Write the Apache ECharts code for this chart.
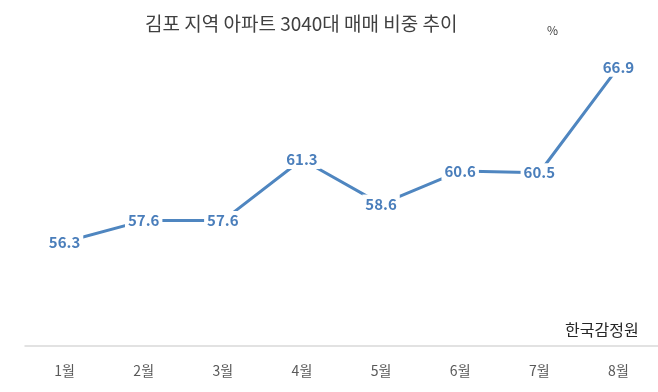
<!DOCTYPE html>
<html>
<head>
<meta charset="utf-8">
<script src="https://cdn.jsdelivr.net/npm/echarts@6/dist/echarts.min.js"></script>
<style>html,body{margin:0;padding:0;background:#fff}#c{width:658px;height:392px}</style>
</head>
<body>
<div id="c"></div>
<script>
const categories = ['1월','2월','3월','4월','5월','6월','7월','8월'];
const values = [56.3, 57.6, 57.6, 61.3, 58.6, 60.6, 60.5, 66.9];
const titleText = '김포 지역 아파트 3040대 매매 비중 추이';
const unitText = '%';
const sourceText = '한국감정원';

const chart = echarts.init(document.getElementById('c'));
const font = '"Noto Sans CJK KR", "Noto Sans", sans-serif';
chart.setOption({
  animation: false,
  backgroundColor: '#fff',
  textStyle: { fontFamily: font },
  title: [
    { text: titleText, left: 140, top: 9, textStyle: { fontSize: 19, fontWeight: 'normal', color: '#404040', fontFamily: font } },
    { text: unitText, left: 542, top: 19, textStyle: { fontSize: 12, fontWeight: 'normal', color: '#404040', fontFamily: font } },
    { text: sourceText, left: 560, top: 317, textStyle: { fontSize: 16, fontWeight: 'normal', color: '#262626', fontFamily: font } }
  ],
  grid: { left: 25, right: -7, top: 16, bottom: 46 },
  xAxis: {
    type: 'category',
    data: categories,
    boundaryGap: true,
    axisLine: { lineStyle: { color: '#d9d9d9', width: 1.5 } },
    axisTick: { show: false },
    axisLabel: { color: '#595959', fontSize: 14, margin: 18, fontFamily: font }
  },
  yAxis: {
    type: 'value', min: 50, max: 70, interval: 5,
    show: false
  },
  series: [{
    type: 'line',
    data: values,
    symbol: 'circle',
    symbolSize: 1,
    showSymbol: true,
    itemStyle: { color: 'rgba(0,0,0,0)' },
    lineStyle: { color: '#4f86c0', width: 3 },
    label: {
      show: true, position: 'inside',
      color: '#4a7ebb', fontSize: 15, fontWeight: 'bold', fontFamily: font,
      backgroundColor: '#fff', padding: [2, 3],
      formatter: p => p.value.toFixed(1)
    }
  }]
});
</script>
</body>
</html>
